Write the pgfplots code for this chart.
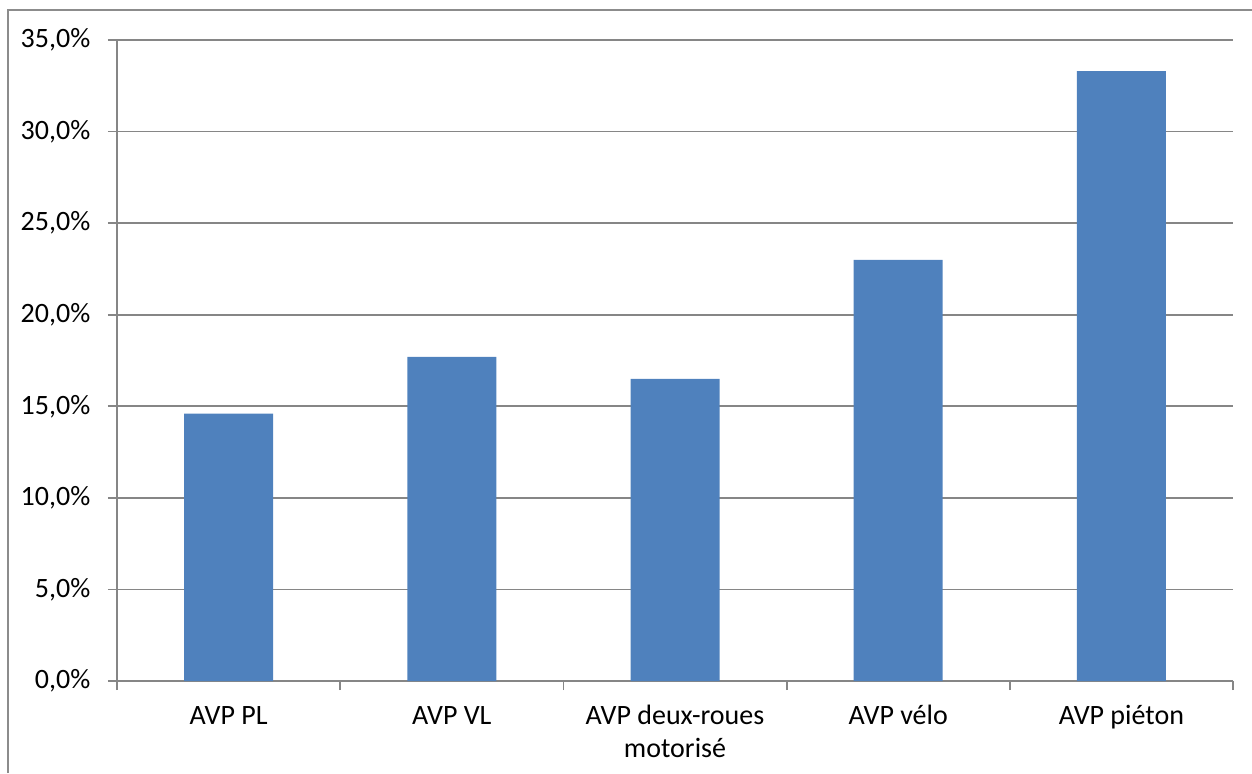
\documentclass[border=0pt]{standalone}
\usepackage{fontspec}
\setmainfont{Carlito}
\usepackage{pgfplots}
\pgfplotsset{compat=1.18}
\definecolor{barblue}{HTML}{4F81BD}
\definecolor{gridgray}{HTML}{868686}
\definecolor{framegray}{HTML}{8C8C8C}

\begin{document}
\fontsize{14}{16.5}\selectfont
\begin{tikzpicture}
\path[use as bounding box] (-58.5pt,-46pt) rectangle (567.5pt,340.5pt);
\begin{axis}[
  scale only axis,
  width=558pt, height=320.5pt,
  xmin=-0.5, xmax=4.5,
  ymin=0, ymax=35,
  axis x line*=bottom, axis y line*=left,
  axis line style={gridgray, line width=0.9pt},
  ytick={0,5,...,35},
  yticklabels={{0,0\%},{5,0\%},{10,0\%},{15,0\%},{20,0\%},{25,0\%},{30,0\%},{35,0\%}},
  ymajorgrids, grid style={gridgray, line width=0.9pt},
  xtick={0,...,4},
  xticklabels={{\strut AVP PL},{\strut AVP VL},{\strut AVP deux-roues\\motorisé},{\strut AVP vélo},{\strut AVP piéton}},
  major x tick style={draw=none},
  minor xtick={-0.5,0.5,...,4.5},
  tick align=outside,
  major tick length=4.5pt, minor tick length=4.5pt,
  tick style={gridgray, line width=0.9pt},
  xticklabel style={align=center, yshift=-1pt},
  yticklabel style={xshift=-4pt},
  ybar, bar width=44.5pt,
]
\addplot[fill=barblue, draw=none] coordinates {
(0,14.6)
(1,17.7)
(2,16.5)
(3,23.0)
(4,33.3)
};
\end{axis}
\draw[framegray, line width=0.9pt] (-54.5pt,-46pt) -- (-54.5pt,335.5pt) -- (567.5pt,335.5pt);
\end{tikzpicture}
\end{document}
